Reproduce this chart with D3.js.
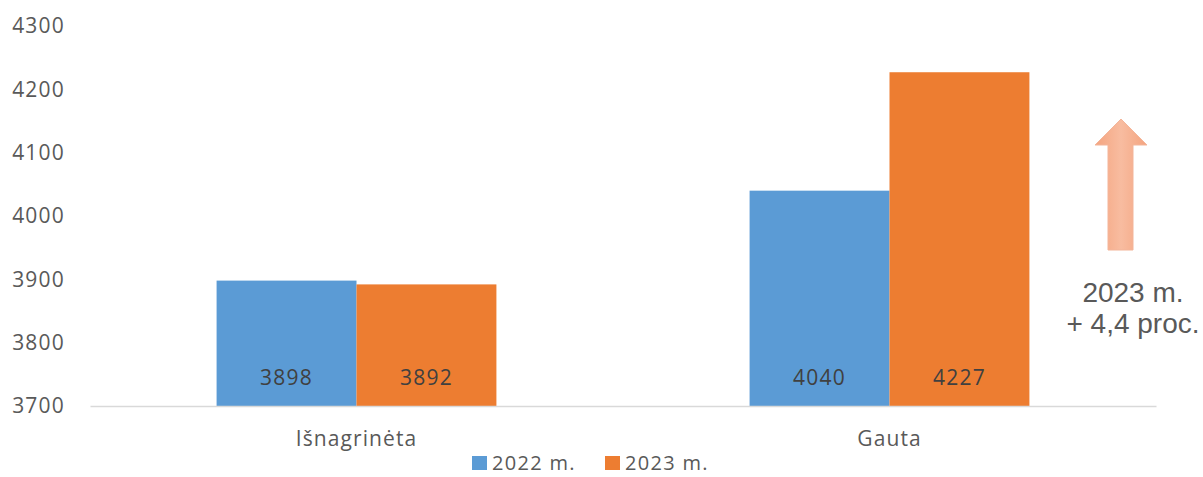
<!DOCTYPE html>
<html>
<head>
<meta charset="utf-8">
<script src="https://cdn.jsdelivr.net/npm/d3@7"></script>
<style>
  body { margin: 0; background: #fff; }
  svg { display: block; }
  text { font-family: "Open Sans", sans-serif; }
</style>
</head>
<body>
<svg id="chart" width="1203" height="477"></svg>
<script>
// chart values
let categories = ["Išnagrinėta", "Gauta"];
let seriesNames = ["2022 m.", "2023 m."];
let values2022 = [3898, 4040];
let values2023 = [3892, 4227];
let yTicks = [3700, 3800, 3900, 4000, 4100, 4200, 4300];
let noteLines = ["2023 m.", "+ 4,4 proc."];

let colors = ["#5b9bd5", "#ed7d31"];

let svg = d3.select("#chart");

let yScale = d3.scaleLinear()
  .domain([3700, 4300])
  .range([406, 26]);

let xScale = d3.scaleBand()
  .domain(categories)
  .range([90, 1156])
  .padding(0);

let groupW = xScale.bandwidth() * 0.525;
let xInner = d3.scaleBand()
  .domain(seriesNames)
  .range([(xScale.bandwidth() - groupW) / 2, (xScale.bandwidth() + groupW) / 2]);

// y axis labels, no line
let yAxis = d3.axisLeft(yScale).tickValues(yTicks).tickFormat(d => d).tickSize(0).tickPadding(0);
let yg = svg.append("g").attr("transform", "translate(65,0)").call(yAxis);
yg.select(".domain").remove();
yg.selectAll("text")
  .attr("fill", "#595959")
  .style("font-size", "21px")
  .style("letter-spacing", "1.2px")
  .style("font-family", "'Open Sans', sans-serif");

let rows = categories.map((c, i) => ({ cat: c, vals: [values2022[i], values2023[i]] }));

let groups = svg.selectAll(".grp")
  .data(rows)
  .enter().append("g")
  .attr("class", "grp")
  .attr("transform", d => "translate(" + xScale(d.cat) + ",0)");

groups.selectAll("rect")
  .data(d => d.vals.map((v, j) => ({ name: seriesNames[j], v: v, j: j })))
  .enter().append("rect")
  .attr("x", d => xInner(d.name))
  .attr("width", xInner.bandwidth())
  .attr("y", d => yScale(d.v))
  .attr("height", d => yScale(3700) - yScale(d.v))
  .attr("fill", d => colors[d.j]);

groups.selectAll(".val")
  .data(d => d.vals.map((v, j) => ({ name: seriesNames[j], v: v, j: j })))
  .enter().append("text")
  .attr("class", "val")
  .attr("x", d => xInner(d.name) + xInner.bandwidth() / 2)
  .attr("y", yScale(3700) - 21)
  .attr("text-anchor", "middle")
  .attr("fill", "#404040")
  .style("font-size", "21px")
  .style("letter-spacing", "1.2px")
  .text(d => d.v);

// baseline
let xAxis = d3.axisBottom(xScale).tickSize(0).tickPadding(25);
let xg = svg.append("g").attr("transform", "translate(0," + yScale(3700) + ")").call(xAxis);
xg.select(".domain").attr("stroke", "#d9d9d9").attr("stroke-width", 1.5);
xg.selectAll("text")
  .attr("fill", "#595959")
  .style("font-size", "21px")
  .style("letter-spacing", "1.1px")
  .style("font-family", "'Open Sans', sans-serif");

// legend (pulled up slightly so it fits the frame)
let legend = svg.append("g").attr("transform", "translate(472,456)");
let legX = [0, 133];
seriesNames.forEach((n, i) => {
  legend.append("rect")
    .attr("x", legX[i]).attr("y", 0)
    .attr("width", 15).attr("height", 14)
    .attr("fill", colors[i]);
  legend.append("text")
    .attr("x", legX[i] + 20).attr("y", 14)
    .attr("fill", "#595959")
    .style("font-size", "20px")
    .style("letter-spacing", "1.3px")
    .text(n);
});

// arrow annotation
let defs = svg.append("defs");
let grad = defs.append("linearGradient").attr("id", "arrowGrad")
  .attr("x1", "0").attr("x2", "1").attr("y1", "0").attr("y2", "0");
grad.append("stop").attr("offset", "0").attr("stop-color", "#f4a47f");
grad.append("stop").attr("offset", "0.5").attr("stop-color", "#f8bca0");
grad.append("stop").attr("offset", "1").attr("stop-color", "#f4a47f");

let ax = 1121;
let arrowPts = [
  [ax, 119], [ax + 26, 145], [ax + 12, 145], [ax + 12, 250],
  [ax - 13, 250], [ax - 13, 145], [ax - 26, 145]
];
svg.append("path")
  .attr("d", d3.line()(arrowPts) + "Z")
  .attr("fill", "url(#arrowGrad)")
  .attr("stroke", "#f3b59a")
  .attr("stroke-width", 1);

svg.selectAll(".note")
  .data(noteLines)
  .enter().append("text")
  .attr("class", "note")
  .attr("x", 1133)
  .attr("y", (d, i) => 302 + i * 31)
  .attr("text-anchor", "middle")
  .attr("fill", "#595959")
  .style("font-family", "'Liberation Sans', Arial, sans-serif")
  .style("font-size", "28px")
  .text(d => d);
</script>
</body>
</html>
